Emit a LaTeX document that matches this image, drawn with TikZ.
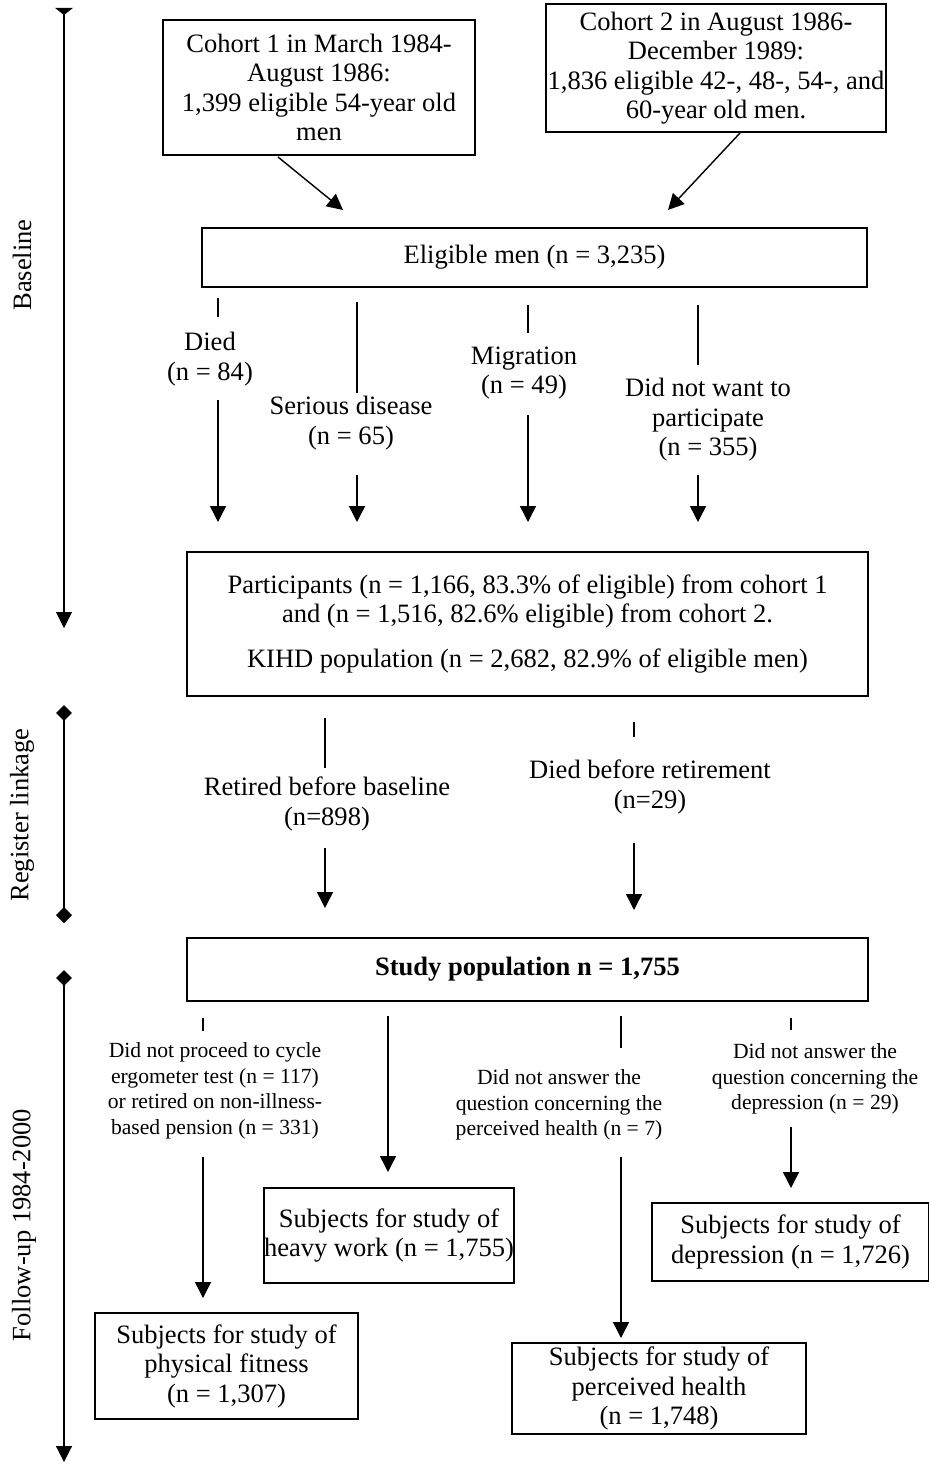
\documentclass[tikz,border=0pt]{standalone}
\usepackage{fontspec}
\setmainfont{Liberation Serif}
\usetikzlibrary{arrows.meta}

\tikzset{
  box/.style={draw,line width=1.1pt,align=center,inner sep=0pt},
  big/.style={font=\fontsize{15.1}{16.8}\selectfont,align=center},
  small/.style={font=\fontsize{12.3}{14.5}\selectfont,align=center},
  tip/.style={line width=0.8pt,-{Triangle[width=9pt,length=9pt]}},
  stub/.style={line width=0.8pt},
}

\begin{document}
\begin{tikzpicture}[x=0.02cm,y=-0.02cm]
  \useasboundingbox (0,0) rectangle (929,1463);
  %\draw[help lines,step=50] (0,0) grid (929,1463);

  % time axis on the left
  \coordinate (t1) at (64,8);
  \coordinate (t2) at (64,628);
  \coordinate (t3) at (64,705);
  \coordinate (t4) at (64,923);
  \coordinate (t5) at (64,970);
  \coordinate (t6) at (64,1462);
  \draw[line width=0.6pt,{Triangle[reversed,width=10pt,length=4pt]}-{Triangle[width=9pt,length=9pt]}] (t1) -- (t2);
  \draw[line width=0.6pt,{Diamond[width=9pt,length=9pt]}-{Diamond[width=9pt,length=9pt]}] (t3) -- (t4);
  \draw[line width=0.6pt,{Diamond[width=9pt,length=9pt]}-{Triangle[width=9pt,length=9pt]}] (t5) -- (t6);
  \node[big,rotate=90] (lbase) at (22,265) {Baseline};
  \node[big,rotate=90] (lreg) at (22,815) {Register linkage};
  \node[big,rotate=90] (lfol) at (24,1225) {Follow-up 1984-2000};

  % cohorts
  \node[box,big,minimum width=6.24cm,minimum height=2.7cm] (coh1) at (319,87.5)
    {Cohort 1 in March 1984-\\August 1986:\\1,399 eligible 54-year old\\men};
  \node[box,big,minimum width=6.8cm,minimum height=2.56cm] (coh2) at (716,68)
    {Cohort 2 in August 1986-\\December 1989:\\1,836 eligible 42-, 48-, 54-, and\\60-year old men.};
  \coordinate (a1) at (278,157);
  \coordinate (a2) at (343,210);
  \coordinate (b1) at (740,133);
  \coordinate (b2) at (668,210);
  \draw[tip] (a1) -- (a2);
  \draw[tip] (b1) -- (b2);

  \node[box,big,minimum width=13.3cm,minimum height=1.18cm] (elig) at (534.5,257.5)
    {Eligible men (n = 3,235)};

  % drop outs at baseline
  \node[big] (died) at (210,359) {Died\\(n = 84)};
  \node[big] (dis) at (351,423) {Serious disease\\(n = 65)};
  \node[big] (mig) at (524,373) {Migration\\(n = 49)};
  \node[big] (want) at (708,420) {Did not want to\\participate\\(n = 355)};
  \coordinate (p1) at (218,298); \coordinate (p2) at (218,317);
  \coordinate (p3) at (218,400); \coordinate (p4) at (218,522);
  \coordinate (q1) at (357,302); \coordinate (q2) at (357,393);
  \coordinate (q3) at (357,475); \coordinate (q4) at (357,522);
  \coordinate (r1) at (528,305); \coordinate (r2) at (528,333);
  \coordinate (r3) at (528,415); \coordinate (r4) at (528,522);
  \coordinate (s1) at (698,305); \coordinate (s2) at (698,365);
  \coordinate (s3) at (698,475); \coordinate (s4) at (698,522);
  \draw[stub] (p1) -- (p2); \draw[tip] (p3) -- (p4);
  \draw[stub] (q1) -- (q2); \draw[tip] (q3) -- (q4);
  \draw[stub] (r1) -- (r2); \draw[tip] (r3) -- (r4);
  \draw[stub] (s1) -- (s2); \draw[tip] (s3) -- (s4);

  \node[box,big,minimum width=13.62cm,minimum height=2.88cm] (part) at (527.5,624)
    {Participants (n = 1,166, 83.3\% of eligible) from cohort 1\\
     and (n = 1,516, 82.6\% eligible) from cohort 2.\\[9pt]
     KIHD population (n = 2,682, 82.9\% of eligible men)};

  % register linkage
  \node[big] (ret) at (327,804) {Retired before baseline\\(n=898)};
  \node[big] (dbr) at (650,787) {Died before retirement\\(n=29)};
  \coordinate (u1) at (325,718); \coordinate (u2) at (325,768);
  \coordinate (u3) at (325,848); \coordinate (u4) at (325,908);
  \coordinate (v1) at (634,722); \coordinate (v2) at (634,737);
  \coordinate (v3) at (634,843); \coordinate (v4) at (634,910);
  \draw[stub] (u1) -- (u2); \draw[tip] (u3) -- (u4);
  \draw[stub] (v1) -- (v2); \draw[tip] (v3) -- (v4);

  \node[box,big,font=\fontsize{15.1}{16.8}\selectfont\bfseries,minimum width=13.62cm,minimum height=1.26cm] (study) at (527.5,969.5)
    {Study population n = 1,755};

  % follow-up
  \node[small] (cyc) at (215,1091) {Did not proceed to cycle\\ergometer test (n = 117)\\or retired on non-illness-\\based pension (n = 331)};
  \node[small] (phq) at (559,1105) {Did not answer the\\question concerning the\\perceived health (n = 7)};
  \node[small] (depq) at (815,1079) {Did not answer the\\question concerning the\\depression (n = 29)};
  \coordinate (w1) at (203,1018); \coordinate (w2) at (203,1031);
  \coordinate (w3) at (203,1157); \coordinate (w4) at (203,1298);
  \coordinate (h1) at (388,1016); \coordinate (h2) at (388,1172);
  \coordinate (x1) at (621,1016); \coordinate (x2) at (621,1048);
  \coordinate (x3) at (621,1157); \coordinate (x4) at (621,1338);
  \coordinate (y1) at (791,1018); \coordinate (y2) at (791,1030);
  \coordinate (y3) at (791,1127); \coordinate (y4) at (791,1188);
  \draw[stub] (w1) -- (w2); \draw[tip] (w3) -- (w4);
  \draw[tip] (h1) -- (h2);
  \draw[stub] (x1) -- (x2); \draw[tip] (x3) -- (x4);
  \draw[stub] (y1) -- (y2); \draw[tip] (y3) -- (y4);

  \node[box,big,minimum width=5.26cm,minimum height=2.12cm] (fit) at (226.5,1366)
    {Subjects for study of\\physical fitness\\(n = 1,307)};
  \node[box,big,minimum width=4.96cm,minimum height=1.9cm] (heavy) at (389,1235.5)
    {Subjects for study of\\heavy work (n = 1,755)};
  \node[box,big,minimum width=5.88cm,minimum height=1.82cm] (perc) at (659,1388.5)
    {Subjects for study of\\perceived health\\(n = 1,748)};
  \node[box,big,minimum width=5.54cm,minimum height=1.56cm] (depr) at (790.5,1242)
    {Subjects for study of\\depression (n = 1,726)};
\end{tikzpicture}
\end{document}
